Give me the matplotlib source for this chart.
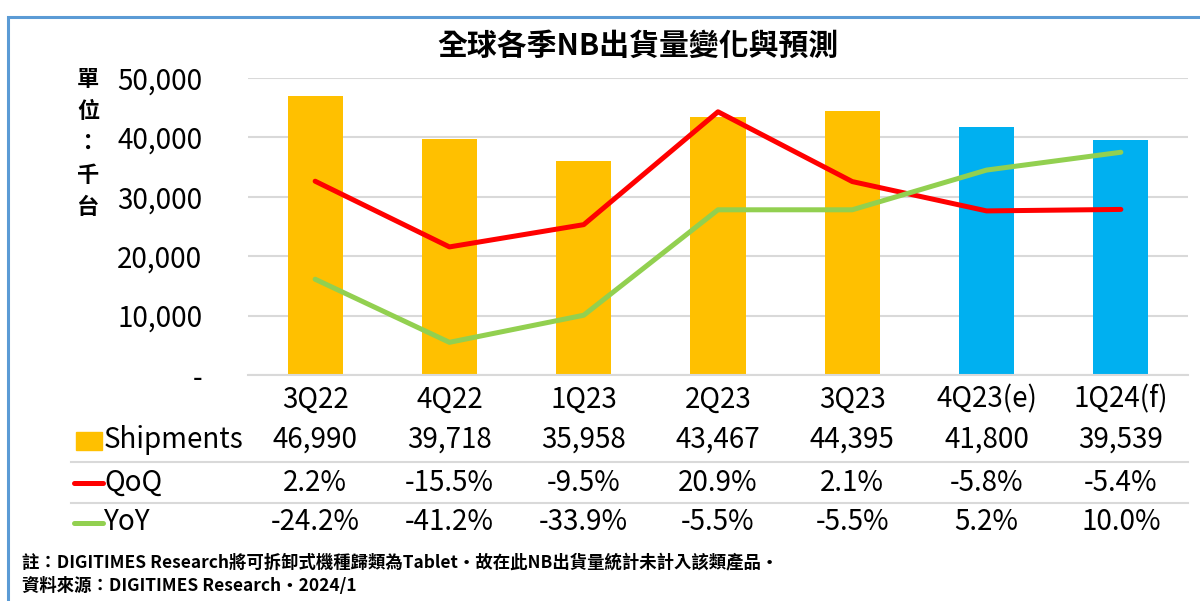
import matplotlib.pyplot as plt
from matplotlib.patches import Rectangle
from matplotlib.lines import Line2D

plt.rcParams['font.family'] = ['Noto Sans CJK TC', 'DejaVu Sans']

# data
quarters = ["3Q22", "4Q22", "1Q23", "2Q23", "3Q23", "4Q23(e)", "1Q24(f)"]
shipments = [46990, 39718, 35958, 43467, 44395, 41800, 39539]
qoq = [2.2, -15.5, -9.5, 20.9, 2.1, -5.8, -5.4]
yoy = [-24.2, -41.2, -33.9, -5.5, -5.5, 5.2, 10.0]
bar_colors = ["#FFC000"] * 5 + ["#00B0F0"] * 2

W, H = 1200, 601
fig = plt.figure(figsize=(12, 6.01), dpi=100)

def fx(px):
    return px / W

def fy(py):
    return 1 - py / H

# plot area in pixels: x 248..1188, y 78..375
ax = fig.add_axes([fx(248), fy(375), fx(1188 - 248), (375 - 78) / H])
x = list(range(len(quarters)))
ax.bar(x, shipments, width=0.41, color=bar_colors, zorder=2)
ax.set_xlim(-0.5, len(quarters) - 0.5)
ax.set_ylim(0, 50000)
ax.set_yticks([0, 10000, 20000, 30000, 40000, 50000])
ax.set_yticklabels(["-", "10,000", "20,000", "30,000", "40,000", "50,000"])
ax.yaxis.grid(True, color="#D9D9D9", linewidth=1.5, zorder=0)
ax.set_axisbelow(True)
ax.tick_params(axis="y", length=0, labelsize=20, pad=33)
ax.tick_params(axis="x", length=0, labelsize=20, pad=7)
ax.set_xticks(x)
ax.set_xticklabels(quarters)
for s in ["top", "right", "left"]:
    ax.spines[s].set_visible(False)
ax.spines["bottom"].set_color("#D9D9D9")
ax.spines["bottom"].set_linewidth(1.5)

ax2 = ax.twinx()
ax2.set_ylim(-50, 30)
ax2.plot(x, qoq, color="#FF0000", linewidth=3.6, zorder=3, solid_capstyle="round")
ax2.plot(x, yoy, color="#92D050", linewidth=3.6, zorder=3, solid_capstyle="round")
ax2.axis("off")

# title
fig.text(fx(638), fy(46), "全球各季NB出貨量變化與預測", ha="center", va="center",
         fontsize=21.5, fontweight="bold")

# y axis unit label (vertical)
for i, ch in enumerate(["單", "位", "：", "千", "台"]):
    fig.text(fx(88), fy(79 + i * 32), ch, ha="center", va="center",
             fontsize=16, fontweight="bold")

# data table
rows = [
    ("Shipments", [f"{v:,}" for v in shipments], 440),
    ("QoQ", [f"{v:.1f}%" for v in qoq], 483),
    ("YoY", [f"{v:.1f}%" for v in yoy], 522),
]
tr = ax.get_xaxis_transform()
for name, vals, py in rows:
    yy = (375 - py) / (375 - 78)
    fig.text(fx(104), fy(py), name, ha="left", va="center", fontsize=20)
    for xi, v in zip(x, vals):
        ax.text(xi, yy, v, transform=tr, ha="center", va="center",
                fontsize=20, clip_on=False)

fig.add_artist(Rectangle((fx(76), fy(450)), fx(26), 18 / H, color="#FFC000",
                         transform=fig.transFigure))
fig.add_artist(Line2D([fx(74), fx(103)], [fy(483), fy(483)], color="#FF0000",
                      linewidth=3.6, solid_capstyle="round"))
fig.add_artist(Line2D([fx(74), fx(103)], [fy(523), fy(523)], color="#92D050",
                      linewidth=3.6, solid_capstyle="round"))
for py in [462, 503]:
    fig.add_artist(Line2D([fx(71), fx(1188)], [fy(py), fy(py)], color="#D9D9D9",
                          linewidth=1.5))

# footnotes
fig.text(fx(22), fy(563), "註：DIGITIMES Research將可拆卸式機種歸類為Tablet・故在此NB出貨量統計未計入該類產品・",
         ha="left", va="center", fontsize=12.5, fontweight="bold")
fig.text(fx(22), fy(586), "資料來源：DIGITIMES Research・2024/1",
         ha="left", va="center", fontsize=12.5, fontweight="bold")

# outer border
fig.add_artist(Rectangle((fx(8), -0.05), 1.1, fy(17) + 0.05, fill=False,
                         edgecolor="#5B9BD5", linewidth=2.2,
                         transform=fig.transFigure))

fig.savefig("out.png", dpi=100)
